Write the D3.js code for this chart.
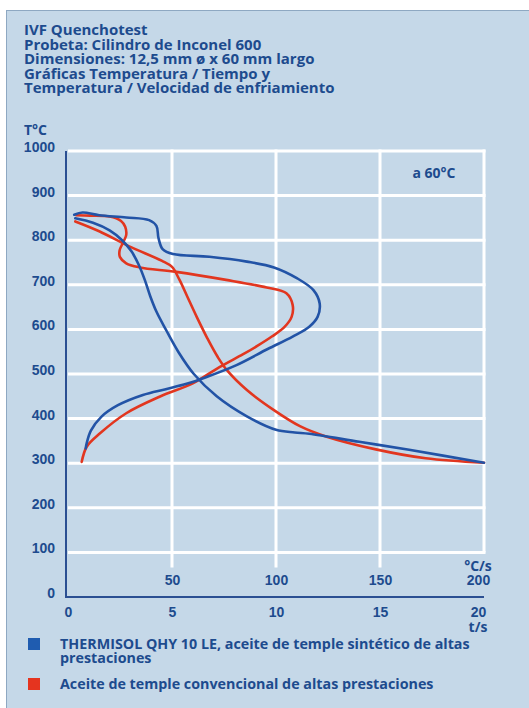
<!DOCTYPE html>
<html>
<head>
<meta charset="utf-8">
<script src="https://cdn.jsdelivr.net/npm/d3@7"></script>
<style>
  html, body { margin: 0; padding: 0; background: #ffffff; }
  svg { display: block; font-family: "Open Sans", "Noto Sans", sans-serif; }
</style>
</head>
<body>
<svg id="chart" width="529" height="708"></svg>
<script>
// Header text
const titleLines = [
  "IVF Quenchotest",
  "Probeta: Cilindro de Inconel 600",
  "Dimensiones: 12,5 mm ø x 60 mm largo",
  "Gráficas Temperatura / Tiempo y",
  "Temperatura / Velocidad de enfriamiento"
];

// Axes
const tempTicks = [0, 100, 200, 300, 400, 500, 600, 700, 800, 900, 1000];
const rateTicks = [50, 100, 150, 200];
const timeTicks = [0, 5, 10, 15, 20];

// Legend entries (first one wraps onto two lines)
const legendLines = [
  ["THERMISOL QHY 10 LE, aceite de temple sintético de altas", "prestaciones"],
  ["Aceite de temple convencional de altas prestaciones"]
];

// Temperature (°C) vs time (s)
const blueTime = [
  [0.35, 849], [1.2, 839], [2.0, 822], [2.6, 800], [3.05, 775], [3.4, 745],
  [3.7, 710], [3.95, 675], [4.25, 640], [4.7, 600], [5.3, 550], [6.05, 500],
  [7.15, 450], [8.6, 405], [10.0, 375], [10.9, 369], [11.6, 366],
  [14.0, 348], [16.4, 330], [20.0, 301]
];
const redTime = [
  [0.35, 842], [1.5, 820], [3.0, 785], [4.5, 754], [5.0, 740], [5.35, 712],
  [5.75, 672], [6.2, 627], [6.7, 580], [7.2, 538], [7.65, 508], [8.6, 464],
  [9.9, 419], [11.15, 383], [12.4, 360], [14.8, 331], [17.2, 311], [20.0, 301]
];

// Temperature (°C) vs cooling rate (°C/s)
const blueRate = [
  [3, 857], [7, 862], [15, 856], [28, 851], [39, 845], [42.5, 832], [43.5, 805],
  [45.5, 780], [50.5, 769], [68, 763], [86, 752], [99, 739], [110, 715],
  [118, 688], [121, 658], [120, 628], [116, 606], [108, 584], [96, 556],
  [81, 520], [67, 494], [57, 478], [47, 466], [36, 453], [24, 430],
  [16, 404], [11, 373], [9, 345], [8.5, 333]
];
const redRate = [
  [4, 856], [10.5, 855], [20, 853], [25.5, 843], [27.5, 830], [28, 812],
  [26.5, 795], [24.8, 777], [25, 762], [28, 748], [34.5, 739], [52, 729],
  [76, 711], [95.5, 694], [105, 681], [108, 655], [107.5, 628], [104, 605],
  [98, 584], [91, 563], [84, 544], [73, 516], [60, 479], [44, 449], [28, 412],
  [15.4, 367], [9, 337], [6.6, 303]
];

const colors = { blue: "#2253a6", red: "#e2361f", text: "#1d4b8e", axis: "#2b4f92",
                 panel: "#c5d8e8", grid: "#ffffff", border: "#8ea8c2",
                 keyBlue: "#1f5cb0", keyRed: "#e5341f" };

const svg = d3.select("#chart");

// Panel
svg.append("rect")
  .attr("x", 6.5).attr("y", 10.5).attr("width", 540).attr("height", 720)
  .attr("fill", colors.panel).attr("stroke", colors.border).attr("stroke-width", 1);

// Header
svg.append("g").selectAll("text").data(titleLines).join("text")
  .attr("x", 24).attr("y", (d, i) => 35 + i * 14.5)
  .attr("fill", colors.text).attr("font-size", 15).attr("font-weight", 700)
  .text(d => d);

// Scales
const x = d3.scaleLinear().domain([0, 200]).range([68, 484]);
const xt = d3.scaleLinear().domain([0, 20]).range([68, 484]);
const y = d3.scaleLinear().domain([0, 1000]).range([597, 151]);

// Grid
const grid = svg.append("g").attr("stroke", colors.grid).attr("stroke-width", 3);
grid.selectAll("line.h").data(tempTicks.filter(d => d > 0)).join("line")
  .attr("class", "h")
  .attr("x1", x(0)).attr("x2", x(200) + 1.5)
  .attr("y1", d => y(d)).attr("y2", d => y(d));
grid.selectAll("line.v").data(rateTicks).join("line")
  .attr("class", "v")
  .attr("x1", d => x(d)).attr("x2", d => x(d))
  .attr("y1", y(1000) - 1.5)
  .attr("y2", d => d === 200 ? y(100) : y(100) + 15);

// Axis lines
svg.append("line").attr("x1", 66).attr("x2", 66).attr("y1", y(1000)).attr("y2", y(0) + 1)
  .attr("stroke", colors.axis).attr("stroke-width", 2);
svg.append("line").attr("x1", 65).attr("x2", x(200)).attr("y1", y(0)).attr("y2", y(0))
  .attr("stroke", colors.axis).attr("stroke-width", 2);

function styleAxis(g) {
  g.select(".domain").remove();
  g.selectAll(".tick line").remove();
  g.selectAll("text").attr("fill", colors.text).attr("font-size", 14)
    .attr("font-weight", 700).attr("font-family", null);
}

// Temperature axis
svg.append("g").attr("transform", "translate(58,-4)")
  .call(d3.axisLeft(y).tickValues(tempTicks).tickSize(0).tickPadding(3).tickFormat(d3.format("d")))
  .call(styleAxis);

// Cooling-rate axis (upper row)
svg.append("g").attr("transform", `translate(0,${y(0) - 22})`)
  .call(d3.axisBottom(x).tickValues(rateTicks).tickSize(0).tickPadding(0).tickFormat(d3.format("d")))
  .call(styleAxis)
  .call(g => g.selectAll(".tick").filter(d => d === 200).select("text").attr("dx", -6));

// Time axis (lower row)
svg.append("g").attr("transform", `translate(0,${y(0) + 10})`)
  .call(d3.axisBottom(xt).tickValues(timeTicks).tickSize(0).tickPadding(0).tickFormat(d3.format("d")))
  .call(styleAxis)
  .call(g => g.selectAll(".tick").filter(d => d === 20).select("text").attr("dx", -6));

// Unit labels
const unit = (tx, ty, anchor, s) => svg.append("text").attr("x", tx).attr("y", ty)
  .attr("text-anchor", anchor).attr("fill", colors.text).attr("font-size", 14)
  .attr("font-weight", 700).text(s);
unit(24, 135, "start", "T°C");
unit(x(200) - 6, 571, "middle", "°C/s");
unit(xt(20) - 6, 632, "middle", "t/s");
unit(434, 178, "middle", "a 60°C");

// Curves
const lineT = d3.line().x(d => xt(d[0])).y(d => y(d[1])).curve(d3.curveCatmullRom.alpha(0.5));
const lineR = d3.line().x(d => x(d[0])).y(d => y(d[1])).curve(d3.curveCatmullRom.alpha(0.5));
const curves = svg.append("g").attr("fill", "none").attr("stroke-width", 2.6)
  .attr("stroke-linecap", "round").attr("stroke-linejoin", "round");
curves.append("path").attr("d", lineR(redRate)).attr("stroke", colors.red);
curves.append("path").attr("d", lineT(redTime)).attr("stroke", colors.red);
curves.append("path").attr("d", lineR(blueRate)).attr("stroke", colors.blue);
curves.append("path").attr("d", lineT(blueTime)).attr("stroke", colors.blue);

// Legend
const legend = svg.append("g");
const keyColors = [colors.keyBlue, colors.keyRed];
const keyTop = [638, 678];
legendLines.forEach((lines, i) => {
  legend.append("rect").attr("x", 28).attr("y", keyTop[i]).attr("width", 12).attr("height", 12)
    .attr("fill", keyColors[i]);
  lines.forEach((s, j) => {
    legend.append("text").attr("x", 60).attr("y", keyTop[i] + 11 + j * 14)
      .attr("fill", colors.text).attr("font-size", 14.3).attr("font-weight", 700).text(s);
  });
});
</script>
</body>
</html>
